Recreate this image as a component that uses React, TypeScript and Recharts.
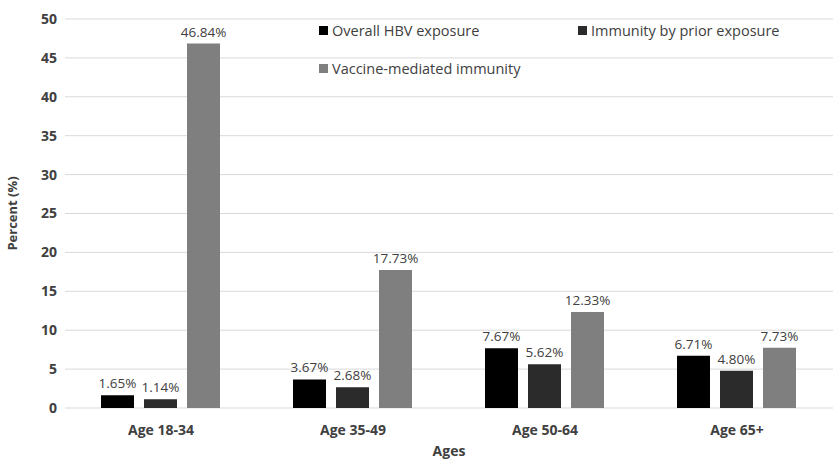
import { BarChart, Bar, XAxis, YAxis, CartesianGrid, LabelList } from 'recharts';

const categories = ['Age 18-34', 'Age 35-49', 'Age 50-64', 'Age 65+'];
const overallExposure = [1.65, 3.67, 7.67, 6.71];
const priorImmunity = [1.14, 2.68, 5.62, 4.80];
const vaccineImmunity = [46.84, 17.73, 12.33, 7.73];
const yTicks = [0, 5, 10, 15, 20, 25, 30, 35, 40, 45, 50];

const series = [
  { key: 'overall', name: 'Overall HBV exposure', color: '#000000' },
  { key: 'prior', name: 'Immunity by prior exposure', color: '#2b2b2b' },
  { key: 'vaccine', name: 'Vaccine-mediated immunity', color: '#7f7f7f' },
];

const data = categories.map((c, i) => ({
  name: c,
  overall: overallExposure[i],
  prior: priorImmunity[i],
  vaccine: vaccineImmunity[i],
}));

const font = '"Open Sans", "Liberation Sans", sans-serif';

// legend laid out in two columns like the original, sitting over the plot
function LegendBox() {
  const pos = [
    { left: 0, top: 0 },
    { left: 259, top: 0 },
    { left: 0, top: 38 },
  ];
  return (
    <div style={{ position: 'absolute', left: 319, top: 21, width: 480, height: 60, fontFamily: font, fontSize: 14.5, color: '#404040' }}>
      {series.map((s, i) => (
        <div key={s.key} style={{ position: 'absolute', left: pos[i].left, top: pos[i].top, display: 'flex', alignItems: 'center', whiteSpace: 'nowrap' }}>
          <span style={{ width: 9, height: 9, background: s.color, marginRight: 4, display: 'inline-block' }}></span>
          {s.name}
        </div>
      ))}
    </div>
  );
}

export default function App() {
  return (
    <div style={{ position: 'absolute', left: 0, top: 0, width: 833, height: 461, background: '#fff' }}>
      <BarChart width={833} height={461} data={data} margin={{ top: 19, right: 0, left: 0, bottom: 0 }}
        barCategoryGap="18.75%" barGap={10}>
        <CartesianGrid vertical={false} stroke="#d9d9d9" />
        <XAxis dataKey="name" height={53} axisLine={false} tickLine={false} interval={0}
          tick={{ fill: '#404040', fontSize: 14, fontWeight: 'bold', fontFamily: font }} dy={9}
          label={{ value: 'Ages', position: 'insideBottom', offset: 5, fill: '#404040', fontSize: 14, fontWeight: 'bold', fontFamily: font }} />
        <YAxis width={65} domain={[0, 50]} ticks={yTicks} axisLine={false} tickLine={false}
          tick={{ fill: '#404040', fontSize: 14, fontWeight: 'bold', fontFamily: font }}
          label={{ value: 'Percent (%)', angle: -90, position: 'insideLeft', offset: 12, fill: '#404040', fontSize: 13, fontWeight: 'bold', fontFamily: font, style: { textAnchor: 'middle' } }} />
        {series.map(s => (
          <Bar key={s.key} dataKey={s.key} name={s.name} fill={s.color} isAnimationActive={false}>
            <LabelList dataKey={s.key} position="top" offset={7}
              formatter={(v: any) => `${Number(v).toFixed(2)}%`}
              style={{ fill: '#404040', fontSize: 13.5, fontFamily: font }} />
          </Bar>
        ))}
      </BarChart>
      <LegendBox />
    </div>
  );
}
